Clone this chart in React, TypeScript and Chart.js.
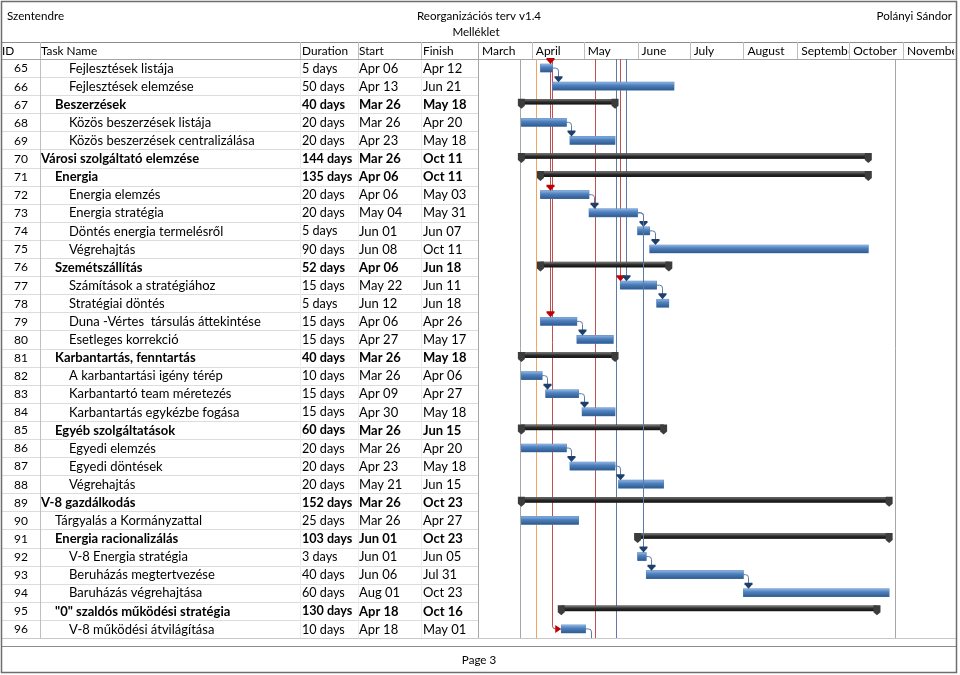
import React, { useEffect, useRef } from 'react';
import { Chart, registerables } from 'chart.js';

Chart.register(...registerables);

// ---------------- data ----------------
const ids = [65, 66, 67, 68, 69, 70, 71, 72, 73, 74, 75, 76, 77, 78, 79, 80, 81, 82, 83, 84, 85, 86, 87, 88, 89, 90, 91, 92, 93, 94, 95, 96];
const taskNames = [
  'Fejlesztések listája',
  'Fejlesztések elemzése',
  'Beszerzések',
  'Közös beszerzések listája',
  'Közös beszerzések centralizálása',
  'Városi szolgáltató elemzése',
  'Energia',
  'Energia elemzés',
  'Energia stratégia',
  'Döntés energia termelésről',
  'Végrehajtás',
  'Szemétszállítás',
  'Számítások a stratégiához',
  'Stratégiai döntés',
  'Duna -Vértes  társulás áttekintése',
  'Esetleges korrekció',
  'Karbantartás, fenntartás',
  'A karbantartási igény térép',
  'Karbantartó team méretezés',
  'Karbantartás egykézbe fogása',
  'Egyéb szolgáltatások',
  'Egyedi elemzés',
  'Egyedi döntések',
  'Végrehajtás',
  'V-8 gazdálkodás',
  'Tárgyalás a Kormányzattal',
  'Energia racionalizálás',
  'V-8 Energia stratégia',
  'Beruházás megtertvezése',
  'Baruházás végrehajtása',
  '"0" szaldós működési stratégia',
  'V-8 működési átvilágítása',
];
const levels = [3, 3, 2, 3, 3, 1, 2, 3, 3, 3, 3, 2, 3, 3, 3, 3, 2, 3, 3, 3, 2, 3, 3, 3, 1, 2, 2, 3, 3, 3, 2, 3];
const summary = [false, false, true, false, false, true, true, false, false, false, false, true, false, false, false, false, true, false, false, false, true, false, false, false, true, false, true, false, false, false, true, false];
const durations = ['5 days', '50 days', '40 days', '20 days', '20 days', '144 days', '135 days', '20 days', '20 days', '5 days', '90 days', '52 days', '15 days', '5 days', '15 days', '15 days', '40 days', '10 days', '15 days', '15 days', '60 days', '20 days', '20 days', '20 days', '152 days', '25 days', '103 days', '3 days', '40 days', '60 days', '130 days', '10 days'];
const starts = ['Apr 06', 'Apr 13', 'Mar 26', 'Mar 26', 'Apr 23', 'Mar 26', 'Apr 06', 'Apr 06', 'May 04', 'Jun 01', 'Jun 08', 'Apr 06', 'May 22', 'Jun 12', 'Apr 06', 'Apr 27', 'Mar 26', 'Mar 26', 'Apr 09', 'Apr 30', 'Mar 26', 'Mar 26', 'Apr 23', 'May 21', 'Mar 26', 'Mar 26', 'Jun 01', 'Jun 01', 'Jun 06', 'Aug 01', 'Apr 18', 'Apr 18'];
const finishes = ['Apr 12', 'Jun 21', 'May 18', 'Apr 20', 'May 18', 'Oct 11', 'Oct 11', 'May 03', 'May 31', 'Jun 07', 'Oct 11', 'Jun 18', 'Jun 11', 'Jun 18', 'Apr 26', 'May 17', 'May 18', 'Apr 06', 'Apr 27', 'May 18', 'Jun 15', 'Apr 20', 'May 18', 'Jun 15', 'Oct 23', 'Apr 27', 'Oct 23', 'Jun 05', 'Jul 31', 'Oct 23', 'Oct 16', 'May 01'];

const monthAbbr = ['Mar', 'Apr', 'May', 'Jun', 'Jul', 'Aug', 'Sep', 'Oct', 'Nov'];
const monthNames = ['March', 'April', 'May', 'June', 'July', 'August', 'September', 'October', 'November'];
const monthLengths = [31, 30, 31, 30, 31, 31, 30, 31, 30];

// finish-to-start links on this page (null = continues on next page)
const linkFrom = [65, 68, 72, 73, 74, 77, 79, 82, 83, 86, 87, 92, 93, 73, 96];
const linkTo: (number | null)[] = [66, 69, 73, 74, 75, 78, 80, 83, 84, 87, 88, 93, 94, 92, null];

// lines entering from previous page (days since Mar 1)
const extLineDays = [24.2, 33.4, 41.3, 42.9, 67.4, 79.4, 82.1, 85.1, 240.4];
const extLineKinds = ['marker', 'status', 'critical', 'critical', 'critical', 'link', 'critical', 'link', 'marker'];
const extLineTargets: number[][] = [[], [], [65, 72, 79], [96], [], [], [77], [77], []];

const headerLeft = 'Szentendre';
const headerTitle = 'Reorganizációs terv v1.4';
const headerSub = 'Melléklet';
const headerRight = 'Polányi Sándor';
const footerText = 'Page 3';
const columnTitles = ['ID', 'Task Name', 'Duration', 'Start', 'Finish'];

// ---------------- derived ----------------
const monthStartDays: number[] = [];
{
  let acc = 0;
  for (const l of monthLengths) {
    monthStartDays.push(acc);
    acc += l;
  }
}
function dayOf(s: string): number {
  const [m, d] = s.split(' ');
  return monthStartDays[monthAbbr.indexOf(m)] + parseInt(d, 10) - 1;
}
const barStart = starts.map(dayOf);
const barEnd = finishes.map((f) => dayOf(f) + 1);

// ---------------- layout ----------------
const W = 960;
const H = 675;
const CHART_LEFT = 478;
const CHART_RIGHT = 956;
const CHART_TOP = 59;
const CHART_BOTTOM = 638;
const HEADER_LINE = 42;
const DAY_MAX = (CHART_RIGHT - CHART_LEFT) / (425 / 245);
const SUM_OFF = -2.5;
const FONT = 'Lato, "Noto Sans", sans-serif';
const colSeps = [39.5, 299.5, 357.5, 421];
const colTextX = [2, 41, 302, 359, 423];
const indentX = [0, 41, 55, 69];

const kindColor: Record<string, string> = {
  marker: '#a6a6a6',
  status: '#f2a35e',
  critical: '#c0504d',
  link: '#5b7ca8',
};
const kindArrow: Record<string, string> = {
  critical: '#c00000',
  link: '#1f3f6b',
};

function rowInfo(chart: any, i: number) {
  const meta = chart.getDatasetMeta(summary[i] ? 1 : 0);
  const el: any = meta.data[i];
  const off = summary[i] ? SUM_OFF : 0;
  const h = el.height;
  const cy = chart.scales.y.getPixelForValue(i);
  return {
    cy,
    left: Math.min(el.x, el.base),
    right: Math.max(el.x, el.base),
    top: el.y + off - h / 2,
    bottom: el.y + off + h / 2,
  };
}

function downArrow(ctx: CanvasRenderingContext2D, x: number, tipY: number, color: string) {
  ctx.fillStyle = color;
  ctx.beginPath();
  ctx.moveTo(x - 4, tipY - 6);
  ctx.lineTo(x + 4, tipY - 6);
  ctx.lineTo(x + 4, tipY - 4.5);
  ctx.lineTo(x, tipY);
  ctx.lineTo(x - 4, tipY - 4.5);
  ctx.closePath();
  ctx.fill();
}
function rightArrow(ctx: CanvasRenderingContext2D, tipX: number, y: number, color: string) {
  ctx.fillStyle = color;
  ctx.beginPath();
  ctx.moveTo(tipX - 6, y - 4);
  ctx.lineTo(tipX, y);
  ctx.lineTo(tipX - 6, y + 4);
  ctx.closePath();
  ctx.fill();
}
function hline(ctx: CanvasRenderingContext2D, x0: number, x1: number, y: number, color: string, lw = 1) {
  ctx.strokeStyle = color;
  ctx.lineWidth = lw;
  ctx.beginPath();
  ctx.moveTo(x0, Math.round(y) + 0.5);
  ctx.lineTo(x1, Math.round(y) + 0.5);
  ctx.stroke();
}
function vline(ctx: CanvasRenderingContext2D, x: number, y0: number, y1: number, color: string, lw = 1) {
  ctx.strokeStyle = color;
  ctx.lineWidth = lw;
  ctx.beginPath();
  ctx.moveTo(Math.round(x) + 0.5, y0);
  ctx.lineTo(Math.round(x) + 0.5, y1);
  ctx.stroke();
}

const ganttPlugin = {
  id: 'gantt',
  beforeDraw(chart: any) {
    const { ctx, chartArea: ca, scales } = chart;
    const xs = scales.x;
    const ys = scales.y;
    const n = ids.length;
    const rowH = (ca.bottom - ca.top) / n;
    ctx.save();
    ctx.fillStyle = '#ffffff';
    ctx.fillRect(0, 0, W, H);

    // table body grid
    for (let r = 0; r <= n; r++) {
      hline(ctx, 2, CHART_LEFT, ca.top + r * rowH, '#dcdcdc');
    }
    vline(ctx, colSeps[0], ca.top, ca.bottom, '#bfbfbf');
    for (let c = 1; c < colSeps.length; c++) vline(ctx, colSeps[c], ca.top, ca.bottom, '#ececec');
    vline(ctx, CHART_LEFT, HEADER_LINE, ca.bottom, '#a6a6a6');

    // header lines
    hline(ctx, 1, CHART_RIGHT, HEADER_LINE, '#8c8c8c');
    hline(ctx, 1, CHART_RIGHT, ca.top, '#a6a6a6');
    for (const s of colSeps) vline(ctx, s, HEADER_LINE, ca.top, '#bfbfbf');

    // month header
    ctx.font = `12px ${FONT}`;
    ctx.fillStyle = '#000';
    ctx.textBaseline = 'middle';
    ctx.textAlign = 'left';
    for (let m = 0; m < monthNames.length; m++) {
      const x0 = xs.getPixelForValue(monthStartDays[m]);
      const x1 = Math.min(xs.getPixelForValue(monthStartDays[m] + monthLengths[m]), CHART_RIGHT);
      if (m > 0) vline(ctx, x0, HEADER_LINE, ca.top, '#bfbfbf');
      ctx.save();
      ctx.beginPath();
      ctx.rect(x0, HEADER_LINE, x1 - x0 - 1, ca.top - HEADER_LINE);
      ctx.clip();
      ctx.fillStyle = '#000';
      ctx.fillText(monthNames[m], x0 + 4, (HEADER_LINE + ca.top) / 2 + 1);
      ctx.restore();
    }
    // column titles
    ctx.font = `11.8px ${FONT}`;
    ctx.fillStyle = '#000';
    columnTitles.forEach((t, i) => ctx.fillText(t, colTextX[i], (HEADER_LINE + ca.top) / 2 + 1));

    // table rows
    for (let i = 0; i < n; i++) {
      const cy = ys.getPixelForValue(i) + 0.5;
      ctx.font = `12px ${FONT}`;
      ctx.textAlign = 'center';
      ctx.fillStyle = '#000';
      ctx.fillText(String(ids[i]), 21, cy);
      ctx.textAlign = 'left';
      ctx.font = `${summary[i] ? 'bold ' : ''}13px ${FONT}`;
      ctx.fillText(taskNames[i], indentX[levels[i]], cy);
      ctx.font = `${summary[i] ? 'bold ' : ''}12.6px ${FONT}`;
      ctx.fillText(durations[i], colTextX[2], cy);
      ctx.font = `${summary[i] ? 'bold ' : ''}13px ${FONT}`;
      ctx.fillText(starts[i], colTextX[3], cy);
      ctx.fillText(finishes[i], colTextX[4], cy);
    }

    // page header
    ctx.font = `11.6px ${FONT}`;
    ctx.textAlign = 'left';
    ctx.fillText(headerLeft, 7, 16);
    ctx.textAlign = 'center';
    ctx.fillText(headerTitle, 479, 16);
    ctx.fillText(headerSub, 476, 32);
    ctx.textAlign = 'right';
    ctx.fillText(headerRight, 952, 16);

    // footer
    hline(ctx, 1, CHART_RIGHT, ca.bottom, '#c8c8c8');
    hline(ctx, 1, CHART_RIGHT, 646, '#8c8c8c', 1.2);
    ctx.textAlign = 'center';
    ctx.fillStyle = '#000';
    ctx.fillText(footerText, 479, 660);

    // frame
    ctx.strokeStyle = '#6e6e6e';
    ctx.lineWidth = 1.5;
    ctx.strokeRect(1.5, 1.5, CHART_RIGHT - 1, 671);
    ctx.restore();
  },
  beforeDatasetsDraw(chart: any) {
    const { ctx, chartArea: ca, scales } = chart;
    const xs = scales.x;
    ctx.save();
    for (let j = 0; j < extLineDays.length; j++) {
      const x = Math.round(xs.getPixelForValue(extLineDays[j])) + 0.5;
      const color = kindColor[extLineKinds[j]];
      const targets = extLineTargets[j].map((id) => ids.indexOf(id));
      ctx.strokeStyle = color;
      ctx.lineWidth = 1;
      ctx.beginPath();
      ctx.moveTo(x, ca.top);
      if (targets.length === 0) {
        ctx.lineTo(x, ca.bottom);
      } else {
        const last = rowInfo(chart, Math.max(...targets));
        if (last.left > x + 3) {
          ctx.lineTo(x, last.cy - 3);
          ctx.quadraticCurveTo(x, last.cy, x + 3, last.cy);
          ctx.lineTo(last.left - 5, last.cy);
        } else {
          ctx.lineTo(x, last.top - 5);
        }
      }
      ctx.stroke();
    }
    ctx.restore();
  },
  beforeDatasetDraw(chart: any, args: any) {
    if (args.index === 1) {
      chart.ctx.save();
      chart.ctx.translate(0, SUM_OFF);
    }
  },
  afterDatasetDraw(chart: any, args: any) {
    if (args.index === 1) chart.ctx.restore();
  },
  afterDatasetsDraw(chart: any) {
    const { ctx, chartArea: ca, scales } = chart;
    const xs = scales.x;
    ctx.save();
    // shading of bars
    for (let i = 0; i < ids.length; i++) {
      const b = rowInfo(chart, i);
      if (!summary[i]) {
        const g = ctx.createLinearGradient(0, b.top, 0, b.bottom);
        g.addColorStop(0, '#8db3e2');
        g.addColorStop(0.4, '#4f81bd');
        g.addColorStop(1, '#2f5a8e');
        ctx.fillStyle = g;
        ctx.fillRect(b.left, b.top, b.right - b.left, b.bottom - b.top);
      } else {
        const g = ctx.createLinearGradient(0, b.top, 0, b.bottom);
        g.addColorStop(0, '#7a7a7a');
        g.addColorStop(0.5, '#2e2e2e');
        g.addColorStop(1, '#111111');
        ctx.fillStyle = g;
        ctx.fillRect(b.left, b.top, b.right - b.left, b.bottom - b.top);
        ctx.fillStyle = '#3c3c3c';
        for (const x of [b.left, b.right]) {
          ctx.beginPath();
          ctx.moveTo(x - 3.5, b.top - 0.5);
          ctx.lineTo(x + 3.5, b.top - 0.5);
          ctx.lineTo(x + 3.5, b.bottom + 1.5);
          ctx.lineTo(x, b.bottom + 4.5);
          ctx.lineTo(x - 3.5, b.bottom + 1.5);
          ctx.closePath();
          ctx.fill();
        }
      }
    }
    // arrows of lines from the previous page
    for (let j = 0; j < extLineDays.length; j++) {
      const x = Math.round(xs.getPixelForValue(extLineDays[j])) + 0.5;
      const col = kindArrow[extLineKinds[j]];
      for (const id of extLineTargets[j]) {
        const b = rowInfo(chart, ids.indexOf(id));
        if (b.left > x + 3) rightArrow(ctx, b.left, b.cy, col);
        else downArrow(ctx, x, b.top, col);
      }
    }
    // finish-to-start links
    for (let k = 0; k < linkFrom.length; k++) {
      const a = rowInfo(chart, ids.indexOf(linkFrom[k]));
      const xt = Math.round(a.right + 5) + 0.5;
      const to = linkTo[k];
      ctx.strokeStyle = '#5b7ba6';
      ctx.lineWidth = 1;
      ctx.beginPath();
      ctx.moveTo(a.right, a.cy);
      ctx.lineTo(xt - 3, a.cy);
      ctx.quadraticCurveTo(xt, a.cy, xt, a.cy + 3);
      if (to === null) {
        ctx.lineTo(xt, ca.bottom);
        ctx.stroke();
      } else {
        const b = rowInfo(chart, ids.indexOf(to));
        ctx.lineTo(xt, b.top - 5);
        ctx.stroke();
        downArrow(ctx, xt, b.top, '#1f3f6b');
      }
    }
    ctx.restore();
  },
};

export default function App() {
  const ref = useRef<HTMLCanvasElement>(null);
  useEffect(() => {
    document.body.style.margin = '0';
    const canvas = ref.current!;
    const chart = new Chart(canvas, {
      type: 'bar',
      data: {
        labels: ids.map(String),
        datasets: [
          {
            label: 'Tasks',
            data: ids.map((_, i) => (summary[i] ? null : [barStart[i], barEnd[i]])) as any,
            backgroundColor: '#4f81bd',
            barThickness: 8,
            grouped: false,
            borderWidth: 0,
          } as any,
          {
            label: 'Summary',
            data: ids.map((_, i) => (summary[i] ? [barStart[i], barEnd[i]] : null)) as any,
            backgroundColor: '#2b2b2b',
            barThickness: 5,
            grouped: false,
            borderWidth: 0,
          } as any,
        ],
      },
      options: {
        indexAxis: 'y',
        responsive: false,
        animation: false,
        devicePixelRatio: 1,
        layout: {
          padding: { left: CHART_LEFT, right: W - CHART_RIGHT, top: CHART_TOP, bottom: H - CHART_BOTTOM },
        },
        scales: {
          x: { type: 'linear', min: 0, max: DAY_MAX, display: false },
          y: { type: 'category', display: false, offset: true },
        },
        plugins: { legend: { display: false }, tooltip: { enabled: false } },
      } as any,
      plugins: [ganttPlugin],
    });
    return () => chart.destroy();
  }, []);
  return <canvas ref={ref} width={W} height={H} style={{ display: 'block', width: W, height: H }} />;
}
